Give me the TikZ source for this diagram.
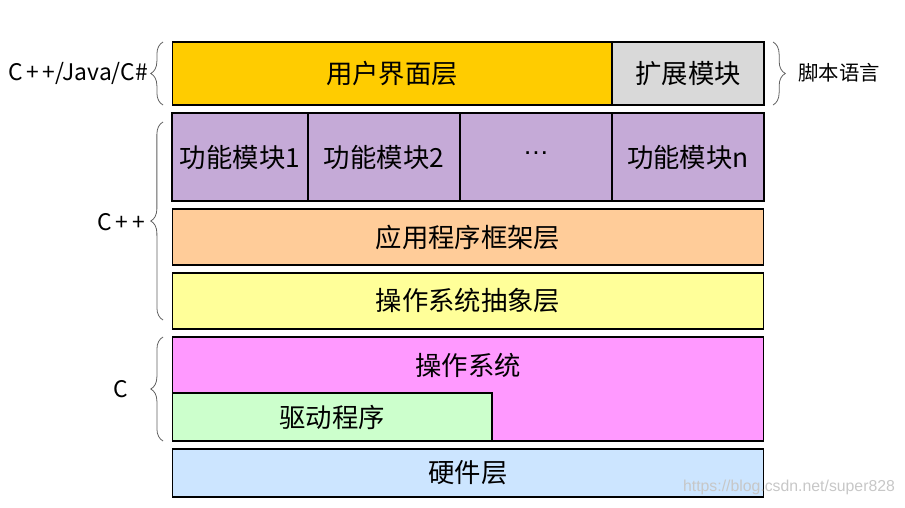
\documentclass[tikz,border=0pt]{standalone}
\usepackage{fontspec}
\setmainfont{Noto Sans CJK SC}
\newfontfamily\urlfont{Liberation Sans}
\usepackage{tikz}
\usetikzlibrary{positioning, decorations.pathreplacing, calc}

\definecolor{uicolor}{HTML}{FFCC00}
\definecolor{extcolor}{HTML}{D9D9D9}
\definecolor{funccolor}{HTML}{C5AAD7}
\definecolor{appcolor}{HTML}{FFCC99}
\definecolor{osalcolor}{HTML}{FFFF99}
\definecolor{oscolor}{HTML}{FF99FF}
\definecolor{drvcolor}{HTML}{CCFFCC}
\definecolor{hwcolor}{HTML}{CCE5FF}
\definecolor{bracecolor}{HTML}{606060}

\begin{document}
\begin{tikzpicture}[x=0.02cm, y=-0.02cm,
  layer/.style={draw, line width=0.6pt, inner sep=0pt, outer sep=0pt,
    font=\fontsize{15}{18}\selectfont},
  bigbrace/.style={draw=bracecolor, line width=0.45pt,
    decorate, decoration={brace, amplitude=7pt}},
  sidelabel/.style={font=\fontsize{13}{15}\selectfont}]
 			\useasboundingbox (0,0) rectangle (905,507);
 			
 			% Top row
 			\node[layer, fill=uicolor, minimum width=8.8cm, minimum height=1.26cm] (ui) at (392,73.5) {用户界面层};
 			\node[layer, fill=extcolor, minimum width=3.04cm, minimum height=1.26cm] (ext) at (688,73.5) {扩展模块};
 			
 			% Function modules
 			\node[layer, fill=funccolor, minimum width=2.72cm, minimum height=1.76cm] (f1) at (240,157) {功能模块1};
 			\node[layer, fill=funccolor, minimum width=3.04cm, minimum height=1.76cm] (f2) at (384,157) {功能模块2};
 			\node[layer, fill=funccolor, minimum width=3.04cm, minimum height=1.76cm] (f3) at (536,157) {\raisebox{0.3em}{\urlfont …}};
 			\node[layer, fill=funccolor, minimum width=3.04cm, minimum height=1.76cm] (fn) at (688,157) {功能模块n};
 			
 			% Framework and abstraction
 			\node[layer, fill=appcolor, minimum width=11.84cm, minimum height=1.12cm] (app) at (468,237) {应用程序框架层};
 			\node[layer, fill=osalcolor, minimum width=11.84cm, minimum height=1.12cm] (osal) at (468,301) {操作系统抽象层};
 			
 			% OS with drivers
 			\node[layer, fill=oscolor, minimum width=11.84cm, minimum height=2.08cm] (os) at (468,389) {};
 			\node[font=\fontsize{15}{18}\selectfont] (ostext) at (468,365) {操作系统};
 			\node[layer, fill=drvcolor, minimum width=6.4cm, minimum height=0.96cm] (drv) at (332,417) {驱动程序};
 			
 			% Hardware
 			\node[layer, fill=hwcolor, minimum width=11.84cm, minimum height=0.96cm] (hw) at (468,473) {硬件层};
 			
 			% Braces
 			\draw[bigbrace] ([xshift=-0.18cm]ui.south west) -- ([xshift=-0.18cm]ui.north west);
 			\draw[bigbrace] ([xshift=-0.18cm]osal.south west) ++(0,-9) -- ($([xshift=-0.18cm]f1.north west)+(0,9)$);
 			\draw[bigbrace] ([xshift=-0.18cm]os.south west) -- ([xshift=-0.18cm]os.north west);
 			\draw[bigbrace] ([xshift=0.18cm]ext.north east) -- ([xshift=0.18cm]ext.south east);
 			
 			% Languages
 			\node[sidelabel] (lang1) at (78,73) {C\,+\,+/Java/C\#};
 			\node[sidelabel] (lang2) at (121,222) {C\,+\,+};
 			\node[sidelabel] (lang3) at (121,389) {C};
 			\node[font=\fontsize{11.6}{14}\selectfont] (script) at (839,73) {脚本语言};
 			
 			% Watermark
 			\node[text=black!22, font=\urlfont\fontsize{9}{11}\selectfont] (mark) at (789,487) {https://blog.csdn.net/super828};
 			
 		\end{tikzpicture}
\end{document}
